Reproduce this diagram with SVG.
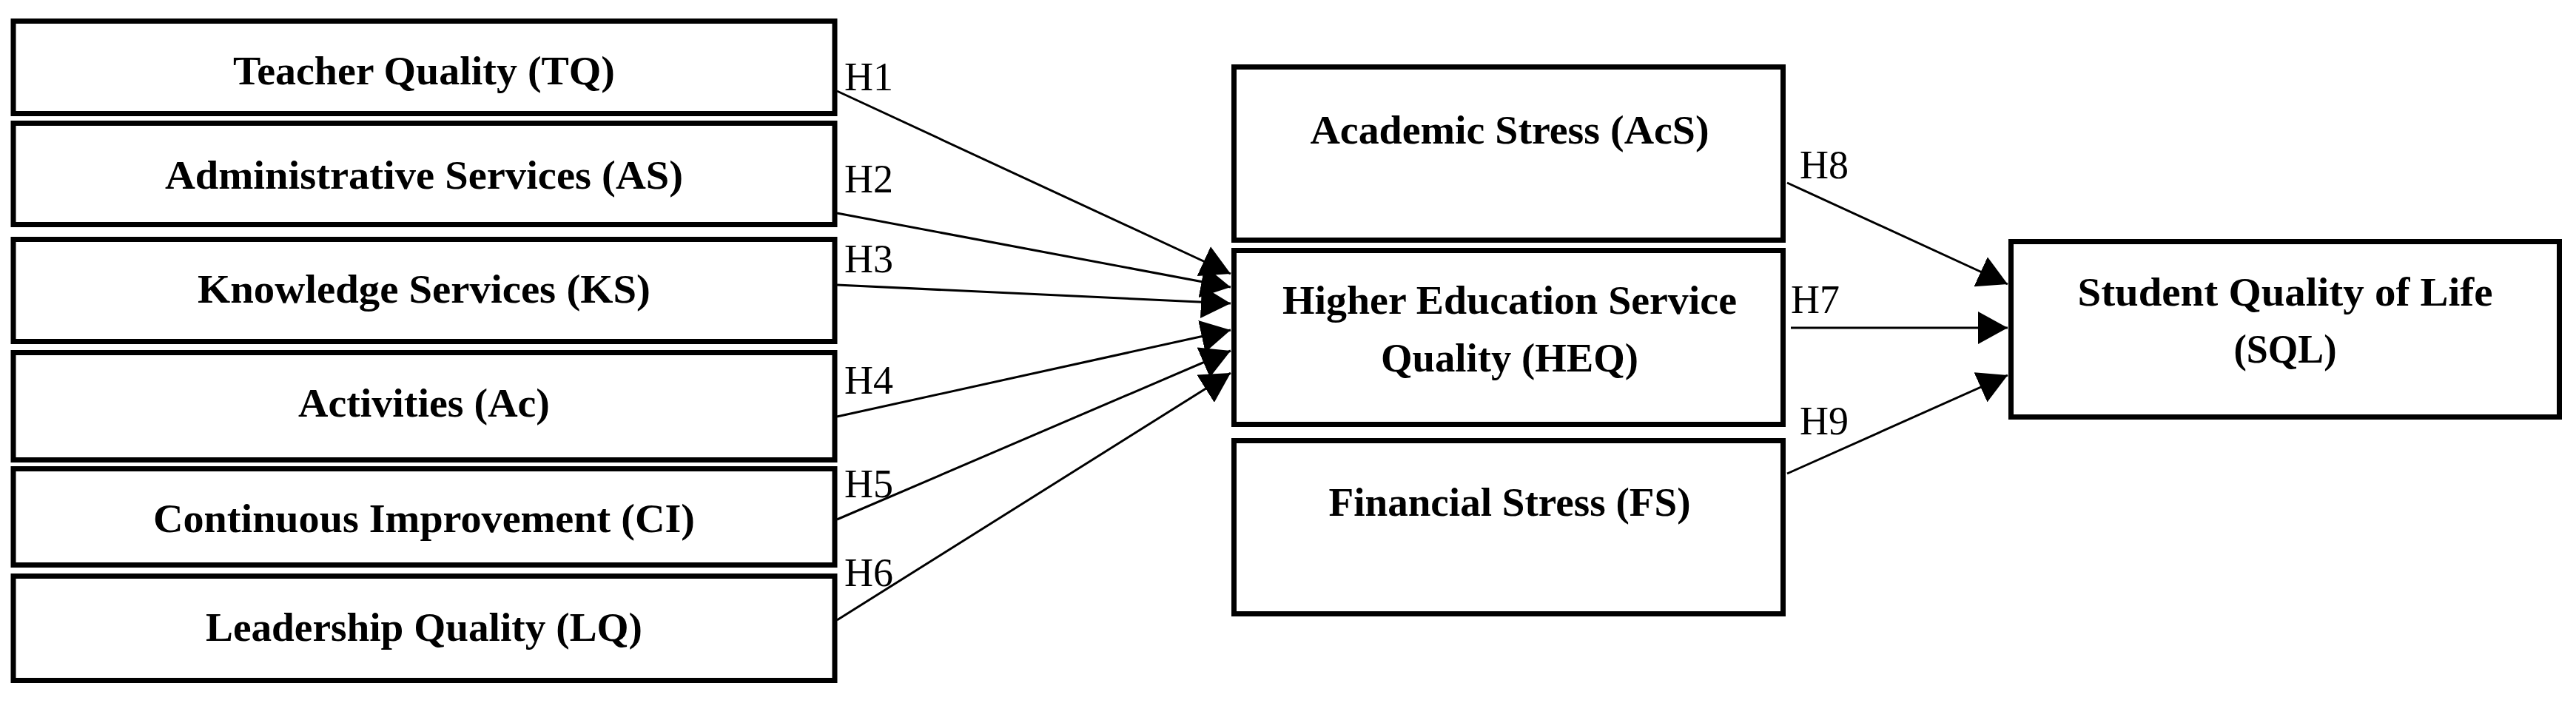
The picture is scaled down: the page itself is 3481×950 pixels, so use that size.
<svg xmlns="http://www.w3.org/2000/svg" width="3481" height="950" viewBox="0 0 3481 950">
<style>
.box{fill:#fff;stroke:#000;stroke-width:7}
.lbl{font-family:"Liberation Serif","Times New Roman",serif;font-weight:bold;font-size:54px;fill:#000;text-anchor:middle}
.h{font-family:"Liberation Serif","Times New Roman",serif;font-size:54px;fill:#000}
.edge{stroke:#000;stroke-width:3;fill:none;marker-end:url(#arr)}
</style>
<defs>
<marker id="arr" markerUnits="userSpaceOnUse" markerWidth="42" markerHeight="44" refX="40" refY="22" orient="auto">
<path d="M0,0 L40,22 L0,44 Z" fill="#000"/>
</marker>
</defs>
<rect width="3481" height="950" fill="#fff"/>
<g id="TQ"><rect class="box" x="18" y="28.5" width="1110" height="125"/><text class="lbl" x="573" y="114" textLength="516" lengthAdjust="spacingAndGlyphs">Teacher Quality (TQ)</text></g>
<g id="AS"><rect class="box" x="18" y="166.5" width="1110" height="137"/><text class="lbl" x="573" y="255" textLength="700" lengthAdjust="spacingAndGlyphs">Administrative Services (AS)</text></g>
<g id="KS"><rect class="box" x="18" y="323.5" width="1110" height="138"/><text class="lbl" x="573" y="409" textLength="612" lengthAdjust="spacingAndGlyphs">Knowledge Services (KS)</text></g>
<g id="Ac"><rect class="box" x="18" y="476.5" width="1110" height="145"/><text class="lbl" x="573" y="563" textLength="340" lengthAdjust="spacingAndGlyphs">Activities (Ac)</text></g>
<g id="CI"><rect class="box" x="18" y="633.5" width="1110" height="130"/><text class="lbl" x="573" y="719" textLength="732" lengthAdjust="spacingAndGlyphs">Continuous Improvement (CI)</text></g>
<g id="LQ"><rect class="box" x="18" y="778.5" width="1110" height="141"/><text class="lbl" x="573" y="866" textLength="590" lengthAdjust="spacingAndGlyphs">Leadership Quality (LQ)</text></g>
<g id="AcS"><rect class="box" x="1667.5" y="90.5" width="742" height="234"/><text class="lbl" x="2040" y="194" textLength="539" lengthAdjust="spacingAndGlyphs">Academic Stress (AcS)</text></g>
<g id="HEQ"><rect class="box" x="1667.5" y="338.5" width="742" height="235"/><text class="lbl" x="2040" y="424" textLength="614" lengthAdjust="spacingAndGlyphs">Higher Education Service</text><text class="lbl" x="2040" y="502" textLength="348" lengthAdjust="spacingAndGlyphs">Quality (HEQ)</text></g>
<g id="FS"><rect class="box" x="1667.5" y="595.5" width="742" height="234"/><text class="lbl" x="2040" y="697" textLength="489" lengthAdjust="spacingAndGlyphs">Financial Stress (FS)</text></g>
<g id="SQL"><rect class="box" x="2717.5" y="326.5" width="741" height="237"/><text class="lbl" x="3088" y="413" textLength="561" lengthAdjust="spacingAndGlyphs">Student Quality of Life</text><text class="lbl" x="3088" y="490" textLength="139" lengthAdjust="spacingAndGlyphs">(SQL)</text></g>
<g id="connectors">
<line class="edge" x1="1131" y1="123" x2="1663" y2="370"/>
<line class="edge" x1="1131" y1="288" x2="1663" y2="388"/>
<line class="edge" x1="1131" y1="385" x2="1663" y2="410"/>
<line class="edge" x1="1131" y1="563" x2="1663" y2="446"/>
<line class="edge" x1="1131" y1="702" x2="1663" y2="474"/>
<line class="edge" x1="1131" y1="838" x2="1663" y2="504"/>
<line class="edge" x1="2420" y1="443" x2="2713" y2="443"/>
<line class="edge" x1="2415" y1="247" x2="2713" y2="384"/>
<line class="edge" x1="2415" y1="640" x2="2713" y2="507"/>
<text class="h" x="1141" y="122">H1</text>
<text class="h" x="1141" y="260">H2</text>
<text class="h" x="1141" y="368">H3</text>
<text class="h" x="1141" y="532">H4</text>
<text class="h" x="1141" y="672">H5</text>
<text class="h" x="1141" y="792">H6</text>
<text class="h" x="2420" y="423">H7</text>
<text class="h" x="2432" y="241">H8</text>
<text class="h" x="2432" y="587">H9</text>
</g>
</svg>
